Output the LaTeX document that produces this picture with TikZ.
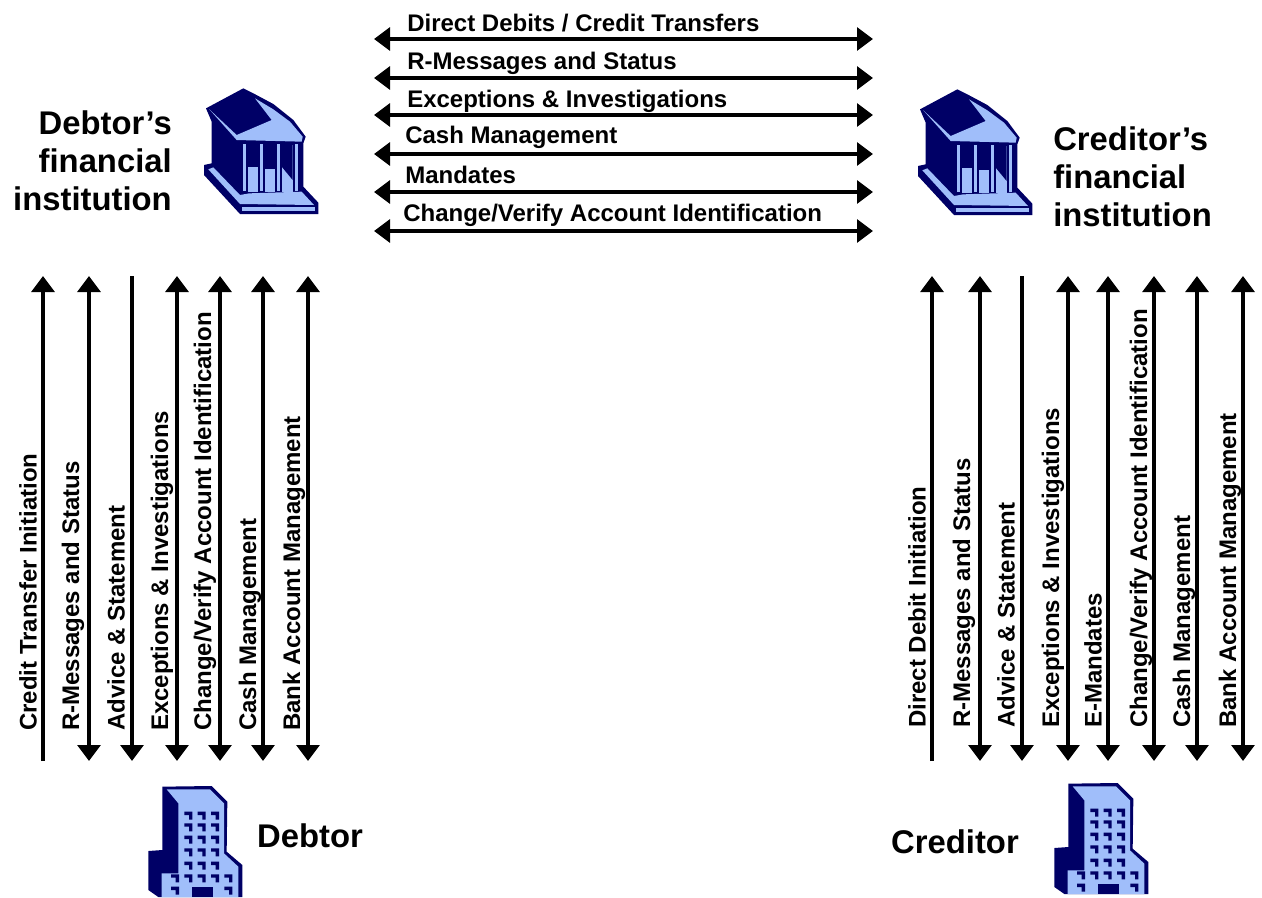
\documentclass[tikz,border=0pt]{standalone}
\usepackage{fontspec}
\setmainfont{Liberation Sans}
\usetikzlibrary{arrows.meta}
\definecolor{navy}{RGB}{0,0,102}
\definecolor{pale}{RGB}{160,190,250}
\tikzset{
  x=0.75pt,y=-0.75pt,
  flow/.style={line width=3pt,black},
  both/.style={flow,{Triangle[length=12pt,width=17pt]}-{Triangle[length=12pt,width=17pt]}},
  uponly/.style={flow,-{Triangle[length=12pt,width=17pt]}},
  hlabel/.style={font=\fontsize{18pt}{20pt}\selectfont\bfseries,anchor=west,inner sep=0pt},
  vlabel/.style={font=\fontsize{18pt}{20pt}\selectfont\bfseries,rotate=90,anchor=west,inner sep=0pt},
  title/.style={font=\fontsize{24.6pt}{28.5pt}\selectfont\bfseries,inner sep=0pt},
  dk/.style={fill=navy,draw=none},
  lt/.style={fill=pale,draw=none},
  bankicon/.pic={
    \begin{scope}[x=0.25pt,y=-0.25pt]
    \path[dk] (160,25)--(48,85)--(65,125)--(65,250)--(42,255)--(42,285)--(150,402)--(385,402)--(385,368)--(340,320)--(340,190)--(347,170)--(310,120)--(250,72)--(190,40)--cycle;
    \path[lt] (58,88)--(140,180)--(335,185)--(338,170)--(300,125)--(250,88)--(195,55)--(245,120)--(140,165)--cycle;
    \path[lt] (175,195)--(330,195)--(330,335)--(175,335)--cycle;
    \path[dk] (153,190)--(175,190)--(175,342)--(153,342)--cycle;
    \path[dk] (203,190)--(225,190)--(225,342)--(203,342)--cycle;
    \path[dk] (255,190)--(275,190)--(275,342)--(255,342)--cycle;
    \path[dk] (308,190)--(330,190)--(330,342)--(308,342)--cycle;
    \path[lt] (159,192)--(169,192)--(169,332)--(159,332)--cycle;
    \path[lt] (209,192)--(219,192)--(219,332)--(209,332)--cycle;
    \path[lt] (260,192)--(270,192)--(270,332)--(260,332)--cycle;
    \path[lt] (314,192)--(325,192)--(325,332)--(314,332)--cycle;
    \path[dk] (175,190)--(203,190)--(203,260)--(175,260)--cycle;
    \path[dk] (225,190)--(255,190)--(255,266)--(225,266)--cycle;
    \path[dk] (275,190)--(308,190)--(308,300)--(275,260)--cycle;
    \path[lt] (55,268)--(150,372)--(372,375)--(335,335)--(178,340)--(150,345)--(70,262)--cycle;
    \path[lt] (155,380)--(375,380)--(375,392)--(155,392)--cycle;
    \end{scope}
  },
  window/.pic={\path[dk] (0,0)--(24,0)--(24,24)--(14,24)--(14,10)--(0,10)--cycle;},
  towericon/.pic={
    \begin{scope}[x=0.25pt,y=-0.25pt]
    \path[dk] (97,50)--(245,48)--(292,95)--(290,245)--(337,285)--(337,381)--(85,381)--(55,360)--(55,243)--(97,240)--cycle;
    \path[lt] (110,58)--(240,58)--(282,100)--(282,250)--(325,290)--(325,381)--(95,381)--(95,310)--(145,310)--(145,100)--cycle;
    \foreach \wy in {125,160,197,235,275}
      \foreach \wx in {163,203,243} \pic at (\wx,\wy) {window};
    \foreach \wx in {123,163,203,243,283} \pic at (\wx,313) {window};
    \foreach \wx in {123,283} \pic at (\wx,350) {window};
    \path[dk] (185,350)--(250,350)--(250,381)--(185,381)--cycle;
    \end{scope}
  }
}
\begin{document}
\begin{tikzpicture}
\useasboundingbox (0,0) rectangle (1262,897);
\clip (0,0) rectangle (1262,897);

% horizontal flows between institutions
\foreach \n/\y/\lx/\ly/\t in {
  a/39/407/23/{Direct Debits / Credit Transfers},
  b/78/407/63/{R-Messages and Status},
  c/115/407/101/{Exceptions \& Investigations},
  d/154/405/137/{Cash Management},
  e/192/405/175/{Mandates},
  f/231/403/215/{Change/Verify Account Identification}}{
  \coordinate (h\n l) at (374,\y);
  \coordinate (h\n r) at (873,\y);
  \draw[both] (h\n l) -- (h\n r);
  \node[hlabel] (hl\n) at (\lx,\ly) {\t};
}

% debtor side
\foreach \n/\x/\k/\lx/\t in {
  1/43/uponly/28/{Credit Transfer Initiation},
  2/89/both/73/{R-Messages and Status},
  3/132/uponly/116/{Advice \& Statement},
  4/177/both/162/{Exceptions \& Investigations},
  5/220/both/205/{Change/Verify Account Identification},
  6/263/both/250/{Cash Management},
  7/308/both/294/{Bank Account Management}}{
  \coordinate (dt\n) at (\x,276);
  \coordinate (db\n) at (\x,761);
  \ifnum\n=3 \draw[uponly] (dt\n) -- (db\n);
  \else\ifnum\n=1 \draw[uponly] (db\n) -- (dt\n);
  \else \draw[\k] (dt\n) -- (db\n); \fi\fi
  \node[vlabel] (dl\n) at (\lx,731) {\t};
}

% creditor side
\foreach \n/\x/\k/\lx/\t in {
  1/932/uponly/917/{Direct Debit Initiation},
  2/980/both/964/{R-Messages and Status},
  3/1022/uponly/1006/{Advice \& Statement},
  4/1068/both/1053/{Exceptions \& Investigations},
  5/1108/both/1093/{E-Mandates},
  6/1154/both/1141/{Change/Verify Account Identification},
  7/1197/both/1184/{Cash Management},
  8/1243/both/1230/{Bank Account Management}}{
  \coordinate (ct\n) at (\x,276);
  \coordinate (cb\n) at (\x,761);
  \ifnum\n=3 \draw[uponly] (ct\n) -- (cb\n);
  \else\ifnum\n=1 \draw[uponly] (cb\n) -- (ct\n);
  \else \draw[\k] (ct\n) -- (cb\n); \fi\fi
  \node[vlabel] (cl\n) at (\lx,728) {\t};
}

% icons
\pic at (190,80) {bankicon};
\pic at (904,81) {bankicon};
\pic at (130,770) {towericon};
\pic at (1036,767) {towericon};

% titles
\node[title,align=right,anchor=north east] (debtorfi) at (172,110) {Debtor’s\\financial\\institution};
\node[title,align=left,anchor=north west] (creditorfi) at (1053,126) {Creditor’s\\financial\\institution};
\node[title,anchor=center] (debtor) at (310,836) {Debtor};
\node[title,anchor=center] (creditor) at (955,842) {Creditor};
\end{tikzpicture}
\end{document}
